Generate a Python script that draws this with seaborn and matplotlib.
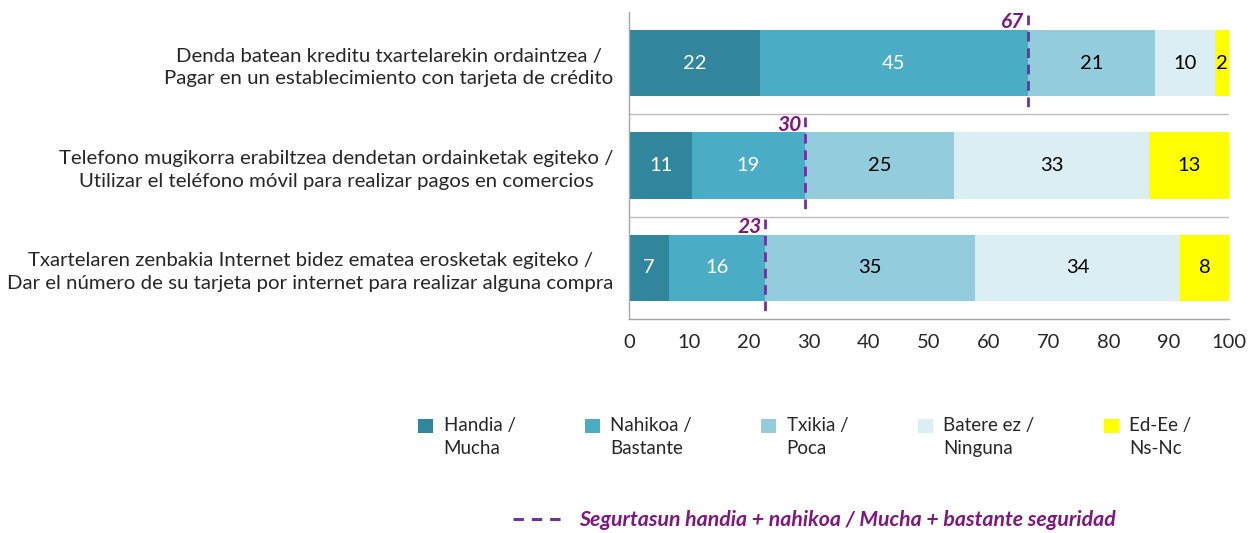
import numpy as np
import pandas as pd
import matplotlib.pyplot as plt
from matplotlib.patches import Patch, Rectangle
from matplotlib.lines import Line2D
from matplotlib.legend_handler import HandlerPatch
import seaborn as sns

# ---- data
items = ["Denda batean kreditu txartelarekin ordaintzea /\nPagar en un establecimiento con tarjeta de crédito",
         "Telefono mugikorra erabiltzea dendetan ordainketak egiteko /\nUtilizar el teléfono móvil para realizar pagos en comercios",
         "Txartelaren zenbakia Internet bidez ematea erosketak egiteko /\nDar el número de su tarjeta por internet para realizar alguna compra"]
levels = ["Handia /\nMucha", "Nahikoa /\nBastante", "Txikia /\nPoca", "Batere ez /\nNinguna", "Ed-Ee /\nNs-Nc"]

# bar lengths (%)
handia = [21.8, 10.5, 6.7]
nahikoa = [44.7, 18.8, 16.0]
txikia = [21.2, 24.9, 35.0]
batere = [10.0, 32.5, 34.1]
edee = [2.3, 13.3, 8.2]

# printed labels
handia_lbl = [22, 11, 7]
nahikoa_lbl = [45, 19, 16]
txikia_lbl = [21, 25, 35]
batere_lbl = [10, 33, 34]
edee_lbl = [2, 13, 8]
seguridad = [67, 30, 23]

colors = ['#31859C', '#4BACC6', '#93CDDD', '#DBEEF4', '#FFFF00']
purple = '#7030A0'
txt_purple = '#80167F'

sns.set_style('white')
plt.rcParams['font.family'] = ['Lato', 'DejaVu Sans']

df = pd.DataFrame({'item': items, 'h': handia, 'n': nahikoa, 't': txikia, 'b': batere, 'e': edee})
cols = ['h', 'n', 't', 'b', 'e']
cum = df[cols].cumsum(axis=1)
lbls = [handia_lbl, nahikoa_lbl, txikia_lbl, batere_lbl, edee_lbl]

fig = plt.figure(figsize=(12.56, 5.33), dpi=100)
ax = fig.add_axes([0.5008, 0.4015, 0.4777, 0.576])

# stacked bars: draw cumulative totals from the last layer to the first
for j in reversed(range(len(cols))):
    sns.barplot(x=cum[cols[j]], y=df['item'], color=colors[j], saturation=1,
                width=0.65, orient='h', ax=ax, linewidth=0)

# value labels
for i in range(len(items)):
    for j, c in enumerate(cols):
        xc = cum.loc[i, c] - df.loc[i, c] / 2
        ax.text(xc, i, str(lbls[j][i]), ha='center', va='center', fontsize=14.5,
                color='white' if j < 2 else 'black')
    # Mucha + bastante dashed marker
    xs = cum.loc[i, 'n']
    ax.plot([xs, xs], [i - 0.475, i + 0.475], color=purple, lw=2,
            dashes=(3.5, 2.4), solid_capstyle='butt')
    ax.text(xs - 0.6, i - 0.40, str(seguridad[i]), ha='right', va='center',
            fontsize=15, color=txt_purple, fontweight='bold', style='italic')

ax.set_xlim(0, 100)
ax.set_ylim(2.5, -0.5)
ax.set_xticks(np.arange(0, 101, 10))
ax.set_yticks([-0.5, 0.5, 1.5, 2.5])
ax.set_yticklabels([])
ax.set_yticks([0, 1, 2], minor=True)
ax.set_yticklabels(items, minor=True, fontsize=14.7, multialignment='center', linespacing=1.4)
ax.tick_params(axis='y', which='minor', length=0, pad=11)
ax.tick_params(axis='y', which='major', length=4, color='#A6A6A6', direction='out')
ax.tick_params(axis='x', length=5, color='#A6A6A6', direction='out', labelsize=14.5, pad=6)
for yy in [0.5, 1.5]:
    ax.axhline(yy, color='#BFBFBF', lw=1, zorder=0)
ax.set_xlabel('')
ax.set_ylabel('')
for s in ['top', 'right']:
    ax.spines[s].set_visible(False)
for s in ['left', 'bottom']:
    ax.spines[s].set_color('#A6A6A6')
    ax.spines[s].set_linewidth(1)


# legend squares sit next to the first line of each two-line label
def top_square(legend, orig_handle, xdescent, ydescent, width, height, fontsize):
    return Rectangle((-xdescent, -ydescent + 0.62 * fontsize), width, height)


handles = [Patch(facecolor=c, edgecolor='none') for c in colors]
lg1 = fig.legend(handles, levels, ncol=5, loc='upper left', bbox_to_anchor=(0.333, 0.2176),
                 frameon=False, fontsize=13.5, handlelength=0.8, handleheight=0.75,
                 handletextpad=0.55, columnspacing=3.7, borderpad=0, borderaxespad=0,
                 handler_map={Patch: HandlerPatch(patch_func=top_square)})
for t in lg1.get_texts():
    t.set_linespacing(1.45)

lg = fig.legend([Line2D([0], [0], color=purple, lw=2.2, dashes=(3.4, 2.6))],
                ['Segurtasun handia + nahikoa / Mucha + bastante seguridad'],
                loc='center left', bbox_to_anchor=(0.4084, 0.0244), frameon=False,
                handlelength=2.5, handletextpad=0.6, borderpad=0, borderaxespad=0,
                fontsize=15.3)
for t in lg.get_texts():
    t.set_color(txt_purple)
    t.set_fontweight('bold')
    t.set_style('italic')

plt.savefig('out.png', dpi=100)
